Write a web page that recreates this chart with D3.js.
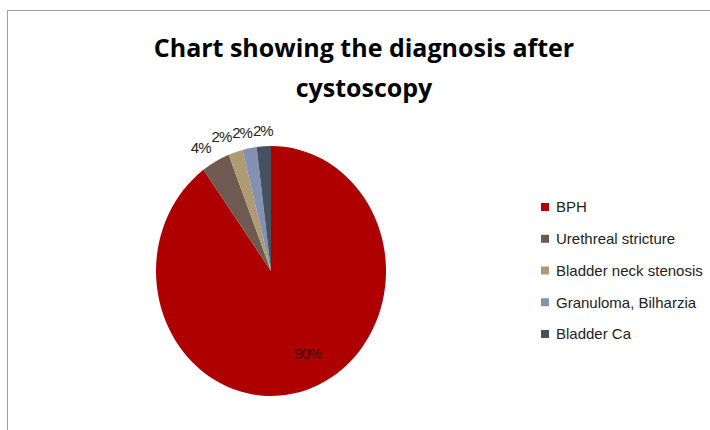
<!DOCTYPE html>
<html>
<head>
<meta charset="utf-8">
<script src="https://cdn.jsdelivr.net/npm/d3@7"></script>
<style>
  body { margin: 0; background: #fff; }
  svg { display: block; }
</style>
</head>
<body>
<div id="chart"></div>
<script>
// data
let categories = ["BPH", "Urethreal stricture", "Bladder neck stenosis", "Granuloma, Bilharzia", "Bladder Ca"];
let values = [90, 4, 2, 2, 2];
let colors = ["#ae0000", "#6e5a50", "#b09a74", "#8392b0", "#46505f"];
let labels = ["90%", "4%", "2%", "2%", "2%"];

let svgWidth = 710;
let svgHeight = 430;

let svg = d3.select("#chart")
  .append("svg")
  .attr("width", svgWidth)
  .attr("height", svgHeight);

// chart frame (runs off the right and bottom edge)
svg.append("rect")
  .attr("x", 7.5)
  .attr("y", 10.5)
  .attr("width", 720)
  .attr("height", 440)
  .attr("fill", "#fff")
  .attr("stroke", "#a0a0a0")
  .attr("stroke-width", 1);

// title
let title = svg.append("text")
  .attr("x", 364)
  .attr("text-anchor", "middle")
  .attr("font-family", "Open Sans, sans-serif")
  .attr("font-weight", "bold")
  .attr("font-size", 25)
  .attr("fill", "#000");
title.append("tspan").attr("x", 364).attr("y", 57).text("Chart showing the diagnosis after");
title.append("tspan").attr("x", 364).attr("y", 97).text("cystoscopy");

// pie (slightly taller than wide, as in the picture)
let cx = 271, cy = 271;
let ry = 125, rx = 115;
let sx = rx / ry;

let pie = d3.pie().sort(null).value(d => d);
let arcs = pie(values);
let arc = d3.arc().innerRadius(0).outerRadius(ry);

let pieGroup = svg.append("g")
  .attr("transform", `translate(${cx}, ${cy}) scale(${sx}, 1)`);

pieGroup.selectAll("path")
  .data(arcs)
  .enter()
  .append("path")
  .attr("d", arc)
  .attr("fill", (d, i) => colors[i]);

// data labels: big slice inside, small ones just outside
function labelPos(d, i) {
  let a = (d.startAngle + d.endAngle) / 2;
  if (i === 0) {
    return [cx + Math.sin(a) * rx * 0.73 + 11, cy - Math.cos(a) * ry * 0.73 - 4];
  }
  let off = 16;
  return [cx + Math.sin(a) * (rx + off), cy - Math.cos(a) * (ry + off)];
}

let dLabels = svg.selectAll("text.dlabel")
  .data(arcs)
  .enter()
  .append("text")
  .attr("class", "dlabel")
  .attr("x", (d, i) => labelPos(d, i)[0])
  .attr("y", (d, i) => labelPos(d, i)[1])
  .attr("dy", "0.35em")
  .attr("text-anchor", "middle")
  .attr("font-family", "Liberation Sans, Arial, sans-serif")
  .attr("font-size", 15)
  .attr("letter-spacing", -1)
  .attr("fill", (d, i) => i === 0 ? "#3a0000" : "#222")
  .text((d, i) => labels[i]);

// push the small outside labels apart, right to left, so they don't collide
let nodes = dLabels.nodes();
for (let i = nodes.length - 2; i >= 1; i--) {
  let right = +d3.select(nodes[i + 1]).attr("x");
  let w = (nodes[i].getComputedTextLength() + nodes[i + 1].getComputedTextLength()) / 2 + 1;
  let x = +d3.select(nodes[i]).attr("x");
  if (x > right - w) d3.select(nodes[i]).attr("x", right - w);
}

// legend
let legendY = d3.scalePoint()
  .domain(categories)
  .range([207, 334]);

let legend = svg.append("g");

legend.selectAll("rect")
  .data(categories)
  .enter()
  .append("rect")
  .attr("x", 541)
  .attr("y", d => legendY(d) - 4)
  .attr("width", 8)
  .attr("height", 8)
  .attr("fill", (d, i) => colors[i]);

legend.selectAll("text")
  .data(categories)
  .enter()
  .append("text")
  .attr("x", 556)
  .attr("y", d => legendY(d))
  .attr("dy", "0.35em")
  .attr("font-family", "Liberation Sans, Arial, sans-serif")
  .attr("font-size", 15)
  .attr("fill", "#222")
  .text(d => d);
</script>
</body>
</html>
